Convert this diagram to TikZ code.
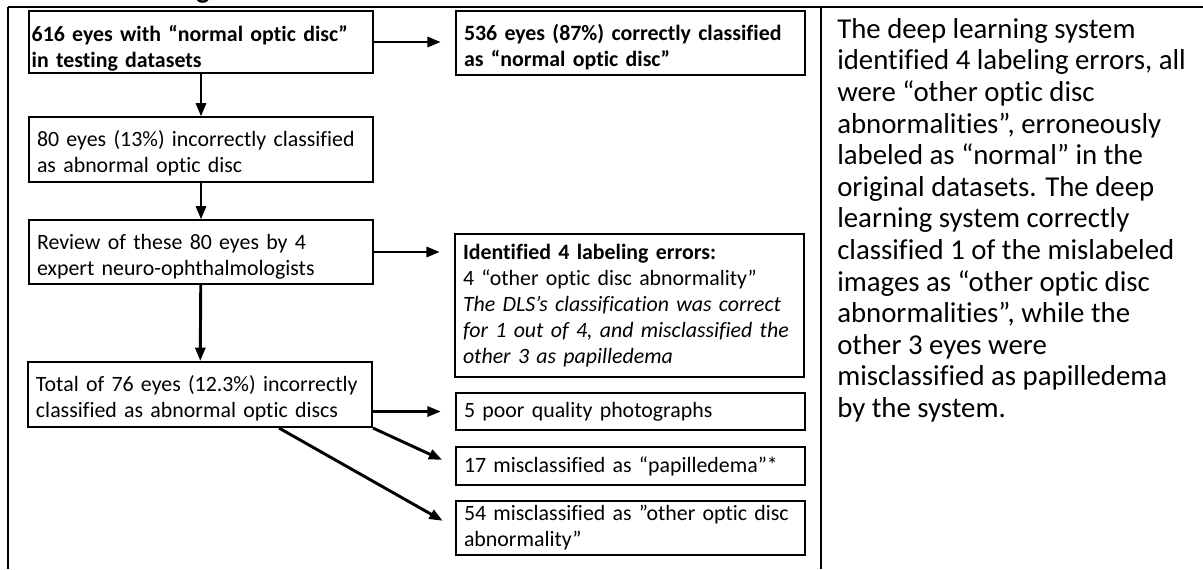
\documentclass[tikz,border=0pt]{standalone}
\usepackage{fontspec}
\setmainfont{Carlito}[Ligatures={TeX,CommonOff}]
\usetikzlibrary{arrows.meta}

\begin{document}
\begin{tikzpicture}[x=0.75pt, y=-0.75pt, >={Triangle[length=10pt,width=7.5pt]},
    box/.style={draw, line width=0.8pt, rectangle, align=left, inner xsep=6pt, inner ysep=0pt,
        font=\fontsize{16.4}{19.5}\selectfont},
    leftbox/.style={box, text width=246pt},
    rightbox/.style={box, text width=249.75pt},
    lowtext/.style={execute at begin node={\rule{0pt}{#1}}},
    flow/.style={->, line width=2.2pt},
    frame/.style={line width=1.6pt}]

    \useasboundingbox (0,0) rectangle (1203,569);

    % --- Frame of the table cell ---
    \node[font=\fontsize{21}{24}\selectfont\bfseries, inner sep=0pt, anchor=base] (title) at (203,-2) {g};
    \draw[frame] (8,7) -- (1203,7);
    \draw[frame] (8,7) -- (8,569);
    \draw[frame] (821,7) -- (821,569);

    % --- Left column ---
    \node[box, text width=254pt, inner xsep=2pt, minimum height=46.5pt, lowtext=21pt,
        font=\fontsize{16.4}{19.5}\selectfont\bfseries] (first) at (201,42)
        {616 eyes with “normal optic disc”\\in testing datasets};
    \node[leftbox, minimum height=48.75pt, lowtext=18pt] (wrong) at (201,149.5)
        {80 eyes (13\%) incorrectly classified\\as abnormal optic disc};
    \node[leftbox, minimum height=48pt, lowtext=18pt] (review) at (201,252)
        {Review of these 80 eyes by 4\\expert neuro-ophthalmologists};
    \node[leftbox, minimum height=48.75pt, lowtext=18pt, line width=1.6pt] (total) at (200,394.5)
        {Total of 76 eyes (12.3\%) incorrectly\\classified as abnormal optic discs};

    % --- Right column ---
    \node[rightbox, minimum height=48pt, lowtext=18pt,
        font=\fontsize{16.4}{19.5}\selectfont\bfseries] (correct) at (630.5,43)
        {536 eyes (87\%) correctly classified\\as “normal optic disc”};
    \node[rightbox, minimum height=107.25pt] (errors) at (629.5,305.5)
        {\textbf{Identified 4 labeling errors:}\\4 “other optic disc abnormality”\\
         \textit{The DLS’s classification was correct}\\
         \textit{for 1 out of 4, and misclassified the}\\
         \textit{other 3 as papilledema}};
    \node[rightbox, minimum height=27.75pt] (poor) at (630.5,411.5)
        {5 poor quality photographs};
    \node[rightbox, minimum height=28.5pt] (papill) at (630.5,466)
        {17 misclassified as “papilledema”*};
    \node[rightbox, minimum height=40.5pt] (other) at (630.5,528)
        {54 misclassified as ”other optic disc\\abnormality”};

    % --- Arrows ---
    \draw[flow, shorten >=11pt] (first.east) -- (first.east -| correct.west);
    \draw[flow] (first) -- (wrong);
    \draw[flow] (wrong) -- (review);
    \draw[flow] (review) -- (total);
    \draw[flow, shorten >=11pt] (review.east) -- (review.east -| errors.west);
    \draw[flow, shorten >=11pt] (poor.west -| total.east) -- (poor.west);
    \draw[flow, shorten >=11pt] (total.south east) -- (papill.west);
    \draw[flow, shorten >=11pt] (total.-23) -- (other.west);

    % --- Note on the right ---
    \node[anchor=north west, inner sep=0pt, align=left, font=\fontsize{21.6}{23.7}\selectfont] (summary) at (837,18)
        {The deep learning system\\identified 4 labeling errors, all\\were “other optic disc\\
         abnormalities”, erroneously\\labeled as “normal” in the\\original datasets. The deep\\
         learning system correctly\\classified 1 of the mislabeled\\images as “other optic disc\\
         abnormalities”, while the\\other 3 eyes were\\misclassified as papilledema\\by the system.};

\end{tikzpicture}
\end{document}
